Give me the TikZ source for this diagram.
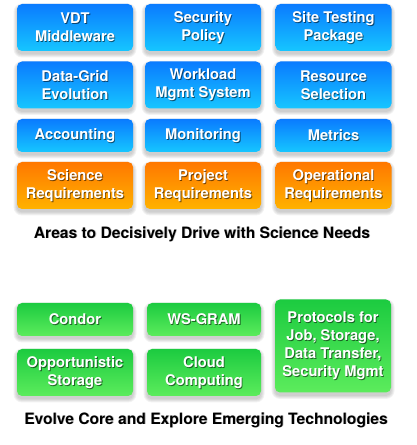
\documentclass[tikz,border=0pt]{standalone}
\usepackage{fontspec}
\setmainfont{TeX Gyre Heros}
\definecolor{blueTop}{HTML}{0A7BFF}
\definecolor{blueBot}{HTML}{16C6FF}
\definecolor{orangeTop}{HTML}{FF7800}
\definecolor{orangeBot}{HTML}{FFB200}
\definecolor{greenTop}{HTML}{1CCB40}
\definecolor{greenBot}{HTML}{5CEC5C}
\tikzset{
  tilebase/.style={rectangle, rounded corners=5pt, inner sep=0pt, shading=axis},
  bluetile/.style={tilebase, top color=blueTop, bottom color=blueBot},
  orangetile/.style={tilebase, top color=orangeTop, bottom color=orangeBot},
  greentile/.style={tilebase, top color=greenTop, bottom color=greenBot},
  tiletext/.style={align=center, inner sep=0pt, text=white,
    font=\bfseries\fontsize{14.7}{18}\selectfont},
  tileshade/.style={tiletext, text=black, text opacity=0.55},
  caption/.style={inner sep=0pt, text=black, font=\bfseries\fontsize{15.6}{18}\selectfont},
  captionshade/.style={caption, text=black, text opacity=0.25},
}
% \tile{name}{cx}{cy}{width}{height}{style}{text}
\newcommand\tile[7]{%
  \foreach \k in {0.5,1.5,2.5,3.5}{%
    \fill[black, opacity=0.05, rounded corners={5pt+\k pt}]
      ({#2-#4/2-\k},{#3-3-#5/2-\k}) rectangle ({#2+#4/2+\k},{#3-3+#5/2+\k});}
  \node[#6, minimum width=#4, minimum height=#5] (#1) at (#2,#3) {};
  \node[tileshade] (#1-s) at ([shift={(0.9,-0.9)}]#1.center) {#7};
  \node[tiletext] (#1-t) at (#1.center) {#7};
}
\begin{document}
\begin{tikzpicture}[x=1pt,y=1pt]
\useasboundingbox (0,0) rectangle (417,445);

% areas driven by science needs
\tile{vdt}{75}{417.5}{116}{47}{bluetile}{VDT\\Middleware}
\tile{sec}{203}{417.5}{116}{47}{bluetile}{Security\\Policy}
\tile{site}{333.5}{417.5}{116}{47}{bluetile}{Site Testing\\Package}
\tile{dgrid}{75}{360}{116}{47}{bluetile}{Data-Grid\\Evolution}
\tile{wms}{203}{360}{116}{47}{bluetile}{Workload\\Mgmt System}
\tile{rsel}{333.5}{360}{116}{47}{bluetile}{Resource\\Selection}
\tile{acct}{75}{309.5}{116}{33}{bluetile}{Accounting}
\tile{mon}{203}{309.5}{116}{33}{bluetile}{Monitoring}
\tile{met}{333.5}{309.5}{116}{33}{bluetile}{Metrics}
\tile{sreq}{75}{259.5}{116}{47}{orangetile}{Science\\Requirements}
\tile{preq}{203}{259.5}{116}{47}{orangetile}{Project\\Requirements}
\tile{oreq}{333.5}{259.5}{116}{47}{orangetile}{Operational\\Requirements}

\node[captionshade] (cap1s) at (202.8,210.2) {Areas to Decisively Drive with Science Needs};
\node[caption] (cap1) at (202,211) {Areas to Decisively Drive with Science Needs};

% core and emerging technologies
\tile{condor}{75}{125.5}{116}{33}{greentile}{Condor}
\tile{wsgram}{204}{125.5}{114}{33}{greentile}{WS-GRAM}
\tile{ostor}{75}{72.5}{116}{47}{greentile}{Opportunistic\\Storage}
\tile{cloud}{204}{72.5}{114}{47}{greentile}{Cloud\\Computing}
\tile{proto}{333}{99}{116}{93}{greentile}{Protocols for\\Job, Storage,\\Data Transfer,\\Security Mgmt}

\node[captionshade] (cap2s) at (206.8,24.2) {Evolve Core and Explore Emerging Technologies};
\node[caption] (cap2) at (206,25) {Evolve Core and Explore Emerging Technologies};
\end{tikzpicture}
\end{document}
